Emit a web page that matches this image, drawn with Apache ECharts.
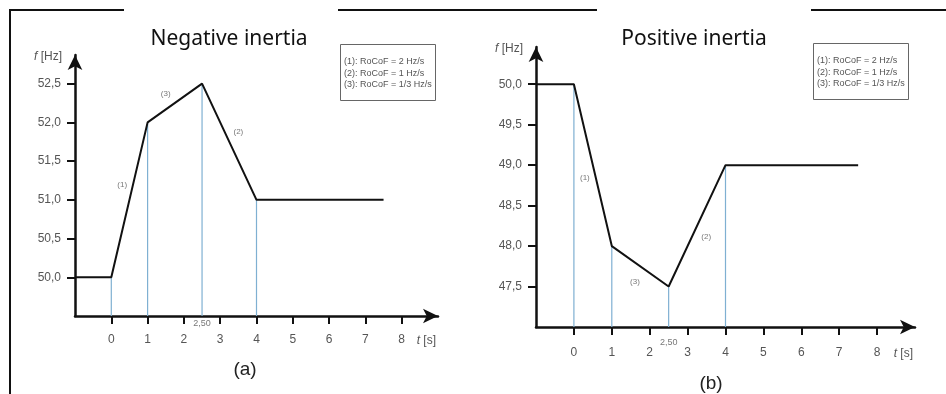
<!DOCTYPE html>
<html><head><meta charset="utf-8">
<script src="https://cdn.jsdelivr.net/npm/echarts@6/dist/echarts.min.js"></script>
<style>html,body{margin:0;padding:0;background:#fff}#c{width:946px;height:394px}</style>
</head><body><div id="c"></div>
<script>
// ---- data ----
const timeA = [-1, 0, 1, 2.5, 4, 7.5];
const freqA = [50, 50, 52, 52.5, 51, 51];
const timeB = [-1, 0, 1, 2.5, 4, 7.5];
const freqB = [50, 50, 48, 47.5, 49, 49];
const dropIdx = [1, 2, 3, 4];                 // points with vertical guide lines
const xTickVals = [0, 1, 2, 3, 4, 5, 6, 7, 8];
const yTickValsA = [50, 50.5, 51, 51.5, 52, 52.5];
const yTickValsB = [47.5, 48, 48.5, 49, 49.5, 50];
const segNames = ['(1)', '(3)', '(2)'];
const segTA = [0.3, 1.5, 3.5];
const segFA = [51.19, 52.37, 51.88];
const segTB = [0.29, 1.61, 3.49];
const segFB = [48.84, 47.56, 48.11];
const legendLines = ['(1): RoCoF = 2 Hz/s', '(2): RoCoF = 1 Hz/s', '(3): RoCoF = 1/3 Hz/s'];
const titles = ['Negative inertia', 'Positive inertia'];
const subLabels = ['(a)', '(b)'];
const markT = 2.5, markText = '2,50';
const xRange = [-1, 9];
const yRangeA = [49.5, 52.87];
const yRangeB = [47.0, 50.46];

// ---- chart ----
const chart = echarts.init(document.getElementById('c'));
const AX = '#111', LBL = '#555', BLUE = '#7fb0d2';
const fam = '"Liberation Sans", Arial, sans-serif';
const fmtComma = v => v.toFixed(1).replace('.', ',');

function xAxis(gi, margin) {
  return {
    type: 'value', gridIndex: gi, min: xRange[0], max: xRange[1],
    splitLine: {show: false},
    axisLine: {onZero: false, lineStyle: {color: AX, width: 2.5}, symbol: ['none', 'arrow'], symbolSize: [11, 15]},
    axisTick: {length: 8, lineStyle: {color: AX, width: 2}, customValues: xTickVals},
    axisLabel: {margin: margin, color: LBL, fontSize: 12, fontFamily: fam, customValues: xTickVals},
    name: '{i|t} [s]', nameLocation: 'end', nameGap: -2,
    nameTextStyle: {align: 'right', verticalAlign: 'top', padding: [margin + 1, 0, 0, 0], color: LBL, fontSize: 12, fontFamily: fam,
      rich: {i: {fontStyle: 'italic', fontSize: 12, color: LBL, fontFamily: fam}}}
  };
}
function yAxis(gi, range, ticks) {
  return {
    type: 'value', gridIndex: gi, min: range[0], max: range[1],
    splitLine: {show: false},
    axisLine: {onZero: false, lineStyle: {color: AX, width: 2.5}, symbol: ['none', 'arrow'], symbolSize: [11, 15]},
    axisTick: {length: 8, lineStyle: {color: AX, width: 2}, customValues: ticks},
    axisLabel: {margin: 14, color: LBL, fontSize: 12, fontFamily: fam, customValues: ticks, formatter: fmtComma},
    name: '{i|f} [Hz]', nameLocation: 'end', nameGap: -2,
    nameTextStyle: {align: 'right', verticalAlign: 'middle', padding: [0, 13, 0, 0], color: LBL, fontSize: 12, fontFamily: fam,
      rich: {i: {fontStyle: 'italic', fontSize: 12, color: LBL, fontFamily: fam}}}
  };
}
function panelSeries(gi, times, freqs, yMin, segT, segF, markOffsetY) {
  const s = [];
  dropIdx.forEach(i => {
    s.push({type: 'line', xAxisIndex: gi, yAxisIndex: gi, symbol: 'none', silent: true, z: 2,
      lineStyle: {color: BLUE, width: 1.2}, data: [[times[i], yMin], [times[i], freqs[i]]]});
  });
  s.push({type: 'line', xAxisIndex: gi, yAxisIndex: gi, symbol: 'none', z: 5,
    lineStyle: {color: '#111', width: 2}, data: times.map((t, i) => [t, freqs[i]])});
  s.push({type: 'scatter', xAxisIndex: gi, yAxisIndex: gi, symbolSize: 0, z: 6,
    label: {show: true, position: 'inside', formatter: p => p.data[2], color: '#555', fontSize: 8, fontFamily: fam},
    data: segT.map((t, i) => [t, segF[i], segNames[i]])});
  s.push({type: 'scatter', xAxisIndex: gi, yAxisIndex: gi, symbolSize: 0, z: 6,
    label: {show: true, position: 'inside', offset: [0, markOffsetY], formatter: markText, color: '#555', fontSize: 9, fontFamily: fam},
    data: [[markT, yMin]]});
  return s;
}
const legendText = legendLines.join('\n');
function legendBox(left, top) {
  return {text: legendText, left: left, top: top, padding: [12, 4, 10, 4],
    borderColor: '#666', borderWidth: 1, backgroundColor: '#fff',
    textStyle: {color: '#555', fontSize: 9, fontWeight: 'normal', lineHeight: 11.5, fontFamily: fam}};
}
const titleStyle = {color: '#111', fontSize: 21, fontWeight: 'normal', fontFamily: '"Noto Sans", "Open Sans", sans-serif'};
const subStyle = {color: '#222', fontSize: 19, fontWeight: 'normal', fontFamily: fam};

chart.setOption({
  animation: false,
  backgroundColor: '#fff',
  title: [
    {text: titles[0], left: 224, top: 24, textAlign: 'center', textStyle: titleStyle},
    {text: titles[1], left: 689, top: 24, textAlign: 'center', textStyle: titleStyle},
    {text: subLabels[0], left: 240, top: 355, textAlign: 'center', textStyle: subStyle},
    {text: subLabels[1], left: 706, top: 369, textAlign: 'center', textStyle: subStyle},
    legendBox(340, 44),
    legendBox(813, 43)
  ],
  grid: [
    {left: 75, top: 55, width: 363, height: 261},
    {left: 536, top: 47, width: 379, height: 280}
  ],
  xAxis: [xAxis(0, 18), xAxis(1, 20)],
  yAxis: [yAxis(0, yRangeA, yTickValsA), yAxis(1, yRangeB, yTickValsB)],
  series: [
    ...panelSeries(0, timeA, freqA, yRangeA[0], segTA, segFA, 8),
    ...panelSeries(1, timeB, freqB, yRangeB[0], segTB, segFB, 16)
  ],
  graphic: [
    {type: 'line', shape: {x1: 10, y1: 10, x2: 124, y2: 10}, style: {stroke: '#111', lineWidth: 2}},
    {type: 'line', shape: {x1: 338, y1: 10, x2: 597, y2: 10}, style: {stroke: '#111', lineWidth: 2}},
    {type: 'line', shape: {x1: 811, y1: 10, x2: 946, y2: 10}, style: {stroke: '#111', lineWidth: 2}},
    {type: 'line', shape: {x1: 10, y1: 9, x2: 10, y2: 394}, style: {stroke: '#111', lineWidth: 2}}
  ]
});
</script></body></html>
